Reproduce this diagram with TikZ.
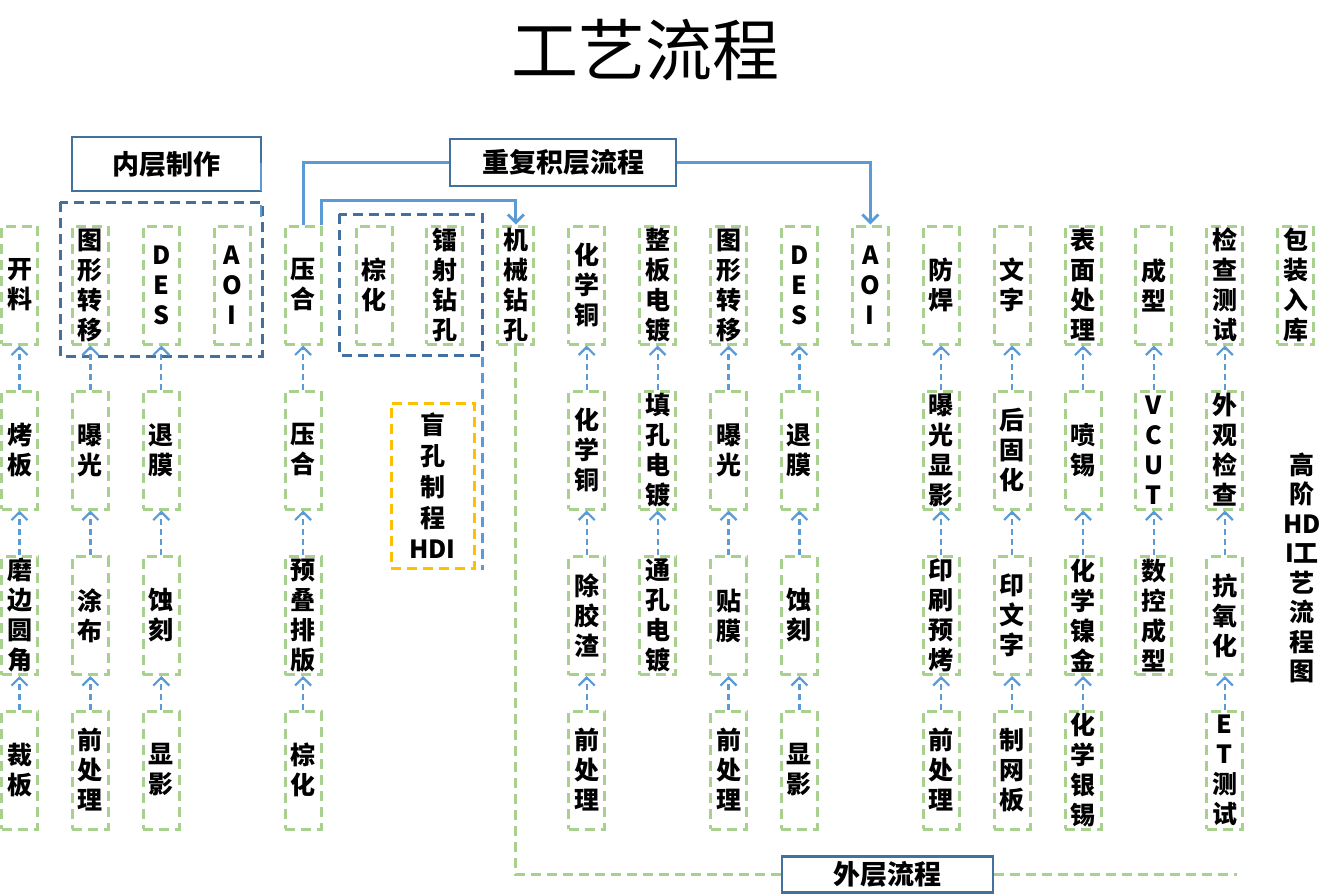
\documentclass[tikz,border=0pt]{standalone}
\usepackage{fontspec}
\setmainfont{Noto Sans CJK SC}
\usetikzlibrary{arrows.meta,calc}
\definecolor{gline}{HTML}{A9D18E}
\definecolor{bline}{HTML}{5B9BD5}
\definecolor{dline}{HTML}{41719C}
\definecolor{yline}{HTML}{FFC000}
\begin{document}
\begin{tikzpicture}[x=1pt,y=-1pt,
  gbox/.style={draw=gline, line width=3pt, dash pattern=on 10pt off 6pt,
    minimum width=36pt, minimum height=118pt, inner sep=0pt, align=center,
    font=\bfseries\fontsize{25}{30}\selectfont},
  lbox/.style={draw=dline, line width=2.2pt, fill=white, inner sep=0pt,
    font=\bfseries\fontsize{27}{30}\selectfont},
  frame/.style={draw=dline, line width=3pt, dash pattern=on 10pt off 6pt},
  arr/.style={draw=bline, line width=2.2pt, dash pattern=on 6pt off 4pt,
    -{Straight Barb[length=8pt,width=16pt]}},
  conn/.style={draw=bline, line width=2.8pt},
  connarr/.style={draw=bline, line width=2.8pt, -{Straight Barb[length=8pt,width=16pt]}},
  gdash/.style={draw=gline, line width=3pt, dash pattern=on 10pt off 6pt},
  bdash/.style={draw=bline, line width=3pt, dash pattern=on 10pt off 6pt},
]
\useasboundingbox (0,0) rectangle (1337,894);

% title
\node[font=\fontsize{67}{70}\selectfont] (title) at (645,50) {工艺流程};

% dashed group frames
\draw[frame] (60,202) rectangle (262,356);
\draw[frame] (339,214) rectangle (482,355);
\draw[bdash] (482,357) -- (482,570);

% column 1
\node[gbox] (c1r1) at (19.5,285) {开\\料};
\node[gbox] (c1r2) at (19.5,450) {烤\\板};
\node[gbox] (c1r3) at (19.5,615.5) {磨\\边\\圆\\角};
\node[gbox] (c1r4) at (19.5,770) {裁\\板};
% column 2
\node[gbox] (c2r1) at (90.4,285) {图\\形\\转\\移};
\node[gbox] (c2r2) at (90.4,450) {曝\\光};
\node[gbox] (c2r3) at (90.4,615.5) {涂\\布};
\node[gbox] (c2r4) at (90.4,770) {前\\处\\理};
% column 3
\node[gbox] (c3r1) at (161.3,285) {D\\E\\S};
\node[gbox] (c3r2) at (161.3,450) {退\\膜};
\node[gbox] (c3r3) at (161.3,615.5) {蚀\\刻};
\node[gbox] (c3r4) at (161.3,770) {显\\影};
% column 4
\node[gbox] (c4r1) at (232.2,285) {A\\O\\I};
% column 5
\node[gbox] (c5r1) at (303.1,285) {压\\合};
\node[gbox] (c5r2) at (303.1,450) {压\\合};
\node[gbox] (c5r3) at (303.1,615.5) {预\\叠\\排\\版};
\node[gbox] (c5r4) at (303.1,770) {棕\\化};
% columns 6-8
\node[gbox] (c6r1) at (374.0,285) {棕\\化};
\node[gbox] (c7r1) at (444.9,285) {镭\\射\\钻\\孔};
\node[gbox] (c8r1) at (515.8,285) {机\\械\\钻\\孔};
% column 9
\node[gbox] (c9r1) at (586.7,285) {化\\学\\铜};
\node[gbox] (c9r2) at (586.7,450) {化\\学\\铜};
\node[gbox] (c9r3) at (586.7,615.5) {除\\胶\\渣};
\node[gbox] (c9r4) at (586.7,770) {前\\处\\理};
% column 10
\node[gbox] (c10r1) at (657.6,285) {整\\板\\电\\镀};
\node[gbox] (c10r2) at (657.6,450) {填\\孔\\电\\镀};
\node[gbox] (c10r3) at (657.6,615.5) {通\\孔\\电\\镀};
% column 11
\node[gbox] (c11r1) at (728.5,285) {图\\形\\转\\移};
\node[gbox] (c11r2) at (728.5,450) {曝\\光};
\node[gbox] (c11r3) at (728.5,615.5) {贴\\膜};
\node[gbox] (c11r4) at (728.5,770) {前\\处\\理};
% column 12
\node[gbox] (c12r1) at (799.4,285) {D\\E\\S};
\node[gbox] (c12r2) at (799.4,450) {退\\膜};
\node[gbox] (c12r3) at (799.4,615.5) {蚀\\刻};
\node[gbox] (c12r4) at (799.4,770) {显\\影};
% column 13
\node[gbox] (c13r1) at (870.3,285) {A\\O\\I};
% column 14
\node[gbox] (c14r1) at (941.2,285) {防\\焊};
\node[gbox] (c14r2) at (941.2,450) {曝\\光\\显\\影};
\node[gbox] (c14r3) at (941.2,615.5) {印\\刷\\预\\烤};
\node[gbox] (c14r4) at (941.2,770) {前\\处\\理};
% column 15
\node[gbox] (c15r1) at (1012.1,285) {文\\字};
\node[gbox] (c15r2) at (1012.1,450) {后\\固\\化};
\node[gbox] (c15r3) at (1012.1,615.5) {印\\文\\字};
\node[gbox] (c15r4) at (1012.1,770) {制\\网\\板};
% column 16
\node[gbox] (c16r1) at (1083.0,285) {表\\面\\处\\理};
\node[gbox] (c16r2) at (1083.0,450) {喷\\锡};
\node[gbox] (c16r3) at (1083.0,615.5) {化\\学\\镍\\金};
\node[gbox] (c16r4) at (1083.0,770) {化\\学\\银\\锡};
% column 17
\node[gbox] (c17r1) at (1153.9,285) {成\\型};
\node[gbox] (c17r2) at (1153.9,450) {V\\C\\U\\T};
\node[gbox] (c17r3) at (1153.9,615.5) {数\\控\\成\\型};
% column 18
\node[gbox] (c18r1) at (1224.8,285) {检\\查\\测\\试};
\node[gbox] (c18r2) at (1224.8,450) {外\\观\\检\\查};
\node[gbox] (c18r3) at (1224.8,615.5) {抗\\氧\\化};
\node[gbox] (c18r4) at (1224.8,770) {E\\T\\测\\试};
% column 19
\node[gbox] (c19r1) at (1295.7,285) {包\\装\\入\\库};

% side title
\node[align=center, inner sep=0pt, font=\bfseries\fontsize{25}{29.5}\selectfont] (hdi) at (1302,568) {高\\阶\\HD\\I工\\艺\\流\\程\\图};

% blind hole box
\node[draw=yline, line width=3pt, dash pattern=on 10pt off 6pt, minimum width=83pt,
  minimum height=165pt, inner sep=0pt, align=center,
  font=\bfseries\fontsize{25}{31}\selectfont] (blind) at (432.5,485.5) {盲\\孔\\制\\程\\HDI};

% vertical flow arrows
\foreach \c in {1,2,3,5,9,11,12,14,15,16,18}{
  \draw[arr] (c\c r4.north) -- (c\c r3.south);
}
\foreach \c in {1,2,3,5,9,10,11,12,14,15,16,17,18}{
  \draw[arr] (c\c r3.north) -- (c\c r2.south);
  \draw[arr] (c\c r2.north) -- (c\c r1.south);
}

% outer layer dashed line and label
\coordinate (ocorner) at (515.8,874.5);
\coordinate (oend) at (1237,874.5);
\draw[gdash] (c8r1.south) -- (ocorner) -- (887.5,874.5);
\node[lbox, minimum width=211pt, minimum height=36pt] (outer) at (887.5,874.5) {外层流程};
\draw[gdash] (outer.east) -- (oend);

% inner layer label
\node[lbox, minimum width=189pt, minimum height=54pt] (inner) at (166.5,164) {内层制作};
\draw[conn, line width=2.2pt] (261,163) -- (261,191);
\draw[conn, line width=2.2pt] (261,205) -- (261,217);

% build-up loop
\node[lbox, minimum width=226pt, minimum height=47pt] (rep) at (563,162.5) {重复积层流程};
\draw[conn] (rep.west) -| (c5r1.north);
\draw[connarr] (rep.east) -| (c13r1.north);
\draw[connarr] ($(c5r1.north east)+(-1,0)$) -- ++(0,-24) -| (c8r1.north);
\end{tikzpicture}
\end{document}
